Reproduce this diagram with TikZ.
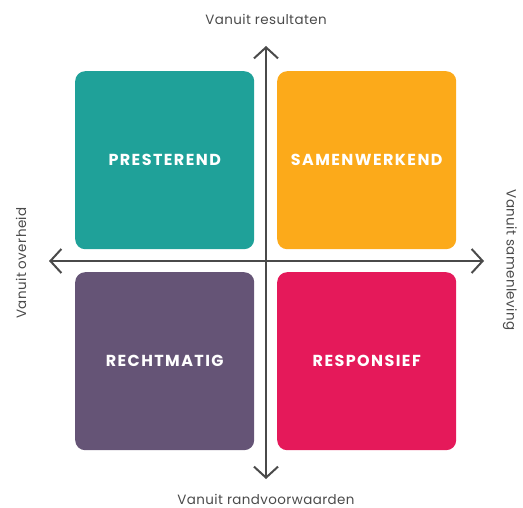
\documentclass[tikz,border=0pt]{standalone}
\usepackage{fontspec}
\setmainfont{Poppins}
\usepackage{xcolor}
\usetikzlibrary{arrows.meta, positioning}

\definecolor{teal}{HTML}{1FA199}
\definecolor{amber}{HTML}{FCAA1A}
\definecolor{plum}{HTML}{655476}
\definecolor{raspberry}{HTML}{E5195A}
\definecolor{axisgray}{HTML}{4A4A4A}

\tikzset{
  quadrant/.style={rounded corners=10bp, minimum width=179bp, minimum height=178bp,
    inner sep=0pt, text=white,
    font=\fontsize{16}{19}\selectfont\bfseries\addfontfeatures{LetterSpace=9}},
  axis/.style={axisgray, line width=2bp, -{Straight Barb[length=11bp, width=24bp, line width=2bp]}},
  axislabel/.style={text=axisgray, font=\fontsize{13.5}{16}\selectfont\addfontfeatures{LetterSpace=3}}
}

\begin{document}
\begin{tikzpicture}[x=1bp, y=-1bp]
  \useasboundingbox (0,0) rectangle (523,508);

  % Quadrants
  \node[quadrant, fill=teal, anchor=north west] (pres) at (75,71) {PRESTEREND};
  \node[quadrant, fill=amber, anchor=north west] (samen) at (277,71) {SAMENWERKEND};
  \node[quadrant, fill=plum, anchor=north west] (recht) at (75,272) {RECHTMATIG};
  \node[quadrant, fill=raspberry, anchor=north west] (resp) at (277,272) {RESPONSIEF};

  % Axes
  \coordinate (origin) at (266,261);
  \coordinate (top) at (266,46);
  \coordinate (bottom) at (266,479);
  \coordinate (left) at (49,261);
  \coordinate (right) at (484,261);
  \draw[axis] (origin) -- (top);
  \draw[axis] (origin) -- (bottom);
  \draw[axis] (origin) -- (left);
  \draw[axis] (origin) -- (right);

  % Axis labels
  \node[axislabel] (res) at (266,19) {Vanuit resultaten};
  \node[axislabel, anchor=base] (rand) at (266,504) {Vanuit randvoorwaarden};
  \node[axislabel, rotate=90] (over) at (21,263) {Vanuit overheid};
  \node[axislabel, rotate=-90] (samenl) at (510,260) {Vanuit samenleving};
\end{tikzpicture}
\end{document}
